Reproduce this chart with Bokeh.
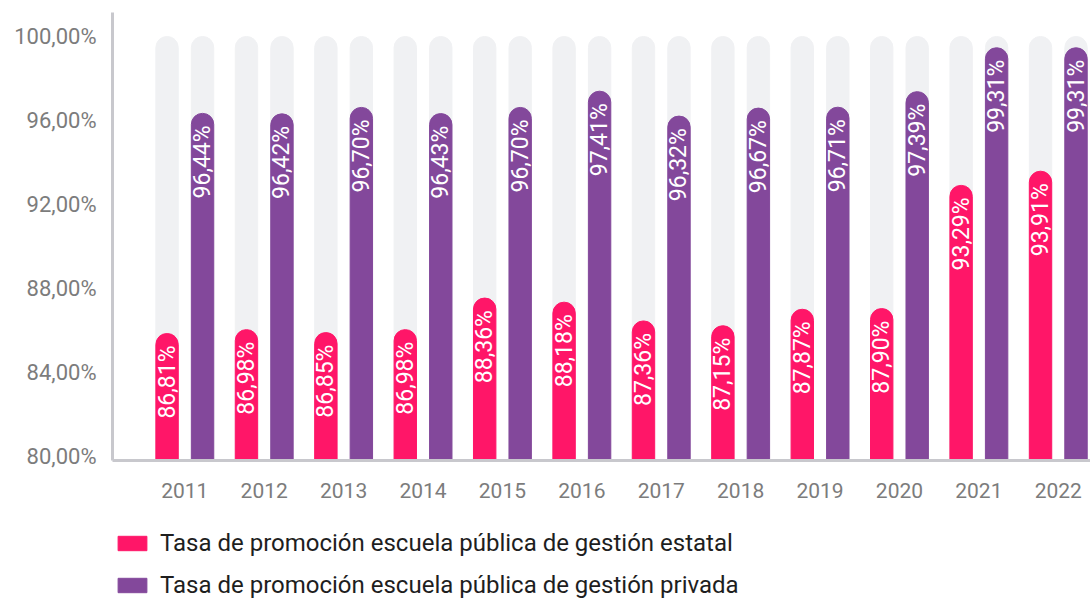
from bokeh.plotting import figure
from bokeh.layouts import column
from bokeh.models import Range1d, FixedTicker, Legend, LegendItem, ColumnDataSource
from bokeh.core.properties import value
from bokeh.embed import file_html
from bokeh.resources import INLINE

# ---- data ----
years = ["2011", "2012", "2013", "2014", "2015", "2016", "2017", "2018", "2019", "2020", "2021", "2022"]
estatal = [86.81, 86.98, 86.85, 86.98, 88.36, 88.18, 87.36, 87.15, 87.87, 87.90, 93.29, 93.91]
privada = [96.44, 96.42, 96.70, 96.43, 96.70, 97.41, 96.32, 96.67, 96.71, 97.39, 99.31, 99.31]
y_ticks = [80, 84, 88, 92, 96, 100]
y_tick_labels = ["80,00%", "84,00%", "88,00%", "92,00%", "96,00%", "100,00%"]
series_names = ["Tasa de promoción escuela pública de gestión estatal",
                "Tasa de promoción escuela pública de gestión privada"]
full_value = 100

# ---- styles ----
PINK = "#FF1668"
PURPLE = "#83489B"
TRACK = "#F0F1F3"
AXIS = "#C8C8CD"
TICK_TXT = "#7C7C7C"
FONT = "Roboto"

idx = list(range(len(years)))
off = 0.2235
bw = 0.282

def fmt(v):
    return f"{v:.2f}".replace(".", ",") + "%"

src_e = ColumnDataSource(dict(x=[i - off for i in idx], top=estatal, lab=[fmt(v) for v in estatal]))
src_p = ColumnDataSource(dict(x=[i + off for i in idx], top=privada, lab=[fmt(v) for v in privada]))
src_bg = ColumnDataSource(dict(x=[i - off for i in idx] + [i + off for i in idx],
                               top=[full_value] * (2 * len(idx))))

p = figure(width=1090, height=520, output_backend="svg", toolbar_location=None,
           x_range=Range1d(-0.9106, 11.406), y_range=Range1d(79.81, 101.143),
           min_border_left=112, min_border_right=0, min_border_top=12, min_border_bottom=60)
p.extra_y_ranges = {"bars": Range1d(81.255, 100.853)}
p.outline_line_color = None
p.xgrid.visible = False
p.ygrid.visible = False
p.background_fill_color = "white"
p.border_fill_color = "white"

p.vbar(x="x", top="top", bottom=79, width=bw, source=src_bg, color=TRACK,
       border_radius=[11, 11, 0, 0])
p.vbar(x="x", top="top", bottom=79, width=bw, source=src_e, color=PINK,
       border_radius=[11, 11, 0, 0], y_range_name="bars")
p.vbar(x="x", top="top", bottom=79, width=bw, source=src_p, color=PURPLE,
       border_radius=[11, 11, 0, 0], y_range_name="bars")

for s in (src_e, src_p):
    p.text(x="x", y="top", text="lab", source=s, angle=1.5708, text_align="right",
           text_baseline="middle", y_offset=12, text_color="white",
           text_font=value(FONT), text_font_size="23px", y_range_name="bars")

# axes
ya = p.yaxis[0]
ya.ticker = FixedTicker(ticks=y_ticks)
ya.major_label_overrides = {t: l for t, l in zip(y_ticks, y_tick_labels)}
ya.axis_line_color = AXIS
ya.axis_line_width = 3
ya.major_tick_line_color = None
ya.minor_tick_line_color = None
ya.major_label_text_font = FONT
ya.major_label_text_font_size = "22px"
ya.major_label_text_color = TICK_TXT
ya.major_label_standoff = 10

xa = p.xaxis[0]
xa.ticker = FixedTicker(ticks=idx)
xa.major_label_overrides = {i: y for i, y in zip(idx, years)}
xa.axis_line_color = AXIS
xa.axis_line_width = 3
xa.major_tick_line_color = None
xa.minor_tick_line_color = None
xa.major_label_text_font = FONT
xa.major_label_text_font_size = "21px"
xa.major_label_text_color = TICK_TXT
xa.major_label_standoff = 16

# ---- legend strip (separate figure under the chart) ----
lg = figure(width=1090, height=79, output_backend="svg", toolbar_location=None,
            x_axis_type=None, y_axis_type=None, x_range=Range1d(0, 1), y_range=Range1d(0, 1),
            min_border=0)
lg.outline_line_color = None
lg.background_fill_color = "white"
lg.border_fill_color = "white"
# legend-only renderers: their single row lies entirely outside the visible ranges
hidden = dict(y=[-50], left=[-60], right=[-50])
le = lg.hbar(y="y", left="left", right="right", height=0.5,
             source=ColumnDataSource(hidden), color=PINK)
lp = lg.hbar(y="y", left="left", right="right", height=0.5,
             source=ColumnDataSource(hidden), color=PURPLE)

legend = Legend(items=[LegendItem(label=series_names[0], renderers=[le]),
                       LegendItem(label=series_names[1], renderers=[lp])],
                orientation="vertical", location=(2, 0),
                label_text_font=FONT, label_text_font_size="24px", label_text_color="#1E1E1E",
                glyph_width=36, glyph_height=18, label_height=28, label_standoff=10,
                spacing=14, padding=0, margin=0, border_line_color=None,
                background_fill_alpha=0)
lg.add_layout(legend, "center")

layout = column(p, lg, spacing=0)
open("out.html", "w").write(file_html(layout, INLINE))
